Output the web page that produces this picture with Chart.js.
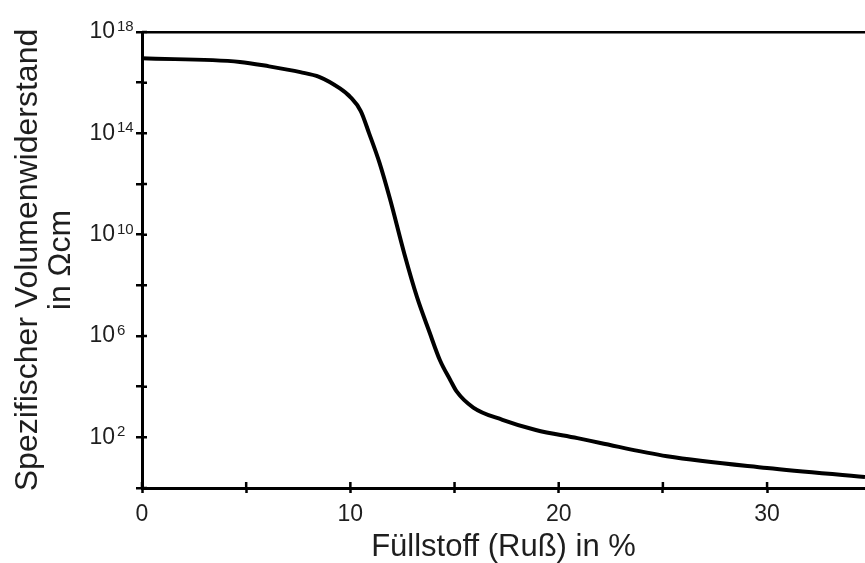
<!DOCTYPE html>
<html>
<head>
<meta charset="utf-8">
<script src="https://cdn.jsdelivr.net/npm/chart.js@4.4.1/dist/chart.umd.min.js"></script>
<style>
  html, body { margin: 0; padding: 0; background: #fff; }
  #wrap { width: 865px; height: 563px; position: relative; }
</style>
</head>
<body>
<div id="wrap"><canvas id="c"></canvas></div>
<script>
// Filler content (carbon black) in %
const fillerPercent = [0, 4.7, 6.1, 7.6, 8.5, 9.5, 10.0, 10.5, 10.9, 11.4, 11.9, 12.6, 13.2, 13.8, 14.3, 14.8, 15.1, 15.9, 17.3, 18.9, 20.9, 22.0, 25.2, 30.0, 34.7];
// Volume resistivity in Ohm*cm
const volumeResistivity = [9.1e16, 6.6e16, 4.4e16, 2.6e16, 1.7e16, 5.9e15, 2.7e15, 7.6e14, 1.0e14, 6.8e12, 2.6e11, 1.65e9, 3.4e7, 1.4e6, 1.1e5, 1.8e4, 6.5e3, 1.5e3, 4.9e2, 1.95e2, 93, 60, 18, 6.2, 2.7];

const xTickValues = [0, 5, 10, 15, 20, 25, 30];
const xTickLabels = ['0', '', '10', '', '20', '', '30'];
const yTickValues = [1e0, 1e2, 1e4, 1e6, 1e8, 1e10, 1e12, 1e14, 1e16, 1e18];
const yTickBases = ['', '10', '', '10', '', '10', '', '10', '', '10'];
const yTickExponents = ['', '2', '', '6', '', '10', '', '14', '', '18'];

const xTitle = 'Füllstoff (Ruß) in %';
const yTitle = ['Spezifischer Volumenwiderstand', 'in Ωcm'];

const FONT = "'Liberation Sans', Arial, Helvetica, sans-serif";
const TEXT = '#1e1e1e';

const innerTicksAndExponents = {
  id: 'innerTicksAndExponents',
  afterDraw(chart) {
    const { ctx, scales: { x, y }, chartArea } = chart;
    ctx.save();
    ctx.strokeStyle = '#000';
    ctx.lineWidth = 2.5;
    ctx.beginPath();
    x.ticks.forEach(t => {
      const px = x.getPixelForValue(t.value);
      ctx.moveTo(px, chartArea.bottom);
      ctx.lineTo(px, chartArea.bottom - 6);
    });
    y.ticks.forEach(t => {
      const py = y.getPixelForValue(t.value);
      ctx.moveTo(chartArea.left, py);
      ctx.lineTo(chartArea.left + 5, py);
    });
    ctx.stroke();
    // exponents of the power-of-ten tick labels
    ctx.fillStyle = TEXT;
    ctx.font = "15px " + FONT;
    ctx.textAlign = 'left';
    ctx.textBaseline = 'alphabetic';
    y.ticks.forEach((t, i) => {
      const exp = yTickExponents[i];
      if (!exp) return;
      const py = y.getPixelForValue(t.value);
      ctx.fillText(exp, chartArea.left - 25, py - 1);
    });
    ctx.restore();
  }
};

new Chart(document.getElementById('c'), {
  type: 'line',
  data: {
    datasets: [{
      data: fillerPercent.map((v, i) => ({ x: v, y: volumeResistivity[i] })),
      borderColor: '#000',
      borderWidth: 4,
      pointRadius: 0,
      fill: false,
      cubicInterpolationMode: 'monotone'
    }]
  },
  options: {
    responsive: true,
    maintainAspectRatio: false,
    animation: false,
    layout: { padding: { top: 32, right: 0, bottom: 0, left: 0 } },
    plugins: { legend: { display: false }, tooltip: { enabled: false } },
    scales: {
      x: {
        type: 'linear',
        min: 0,
        max: 34.7,
        afterBuildTicks: s => { s.ticks = xTickValues.map(v => ({ value: v })); },
        afterFit: s => { s.height = 75; s.paddingRight = 0; },
        ticks: {
          callback: (v, i) => xTickLabels[i],
          font: { family: FONT, size: 23 },
          color: TEXT,
          padding: 8,
          maxRotation: 0,
          autoSkip: false
        },
        grid: {
          display: true,
          drawOnChartArea: false,
          drawTicks: true,
          tickLength: 5,
          tickColor: '#000',
          tickWidth: 2.5,
          color: '#000'
        },
        border: { display: true, color: '#000', width: 3 },
        title: {
          display: true,
          text: xTitle,
          font: { family: FONT, size: 31, lineHeight: 1.03 },
          color: TEXT,
          padding: { top: 0, bottom: 0 }
        }
      },
      y: {
        type: 'logarithmic',
        min: 1,
        max: 1e18,
        afterBuildTicks: s => { s.ticks = yTickValues.map(v => ({ value: v })); },
        afterFit: s => { s.width = 142; s.paddingTop = 0; s.paddingBottom = 0; },
        ticks: {
          callback: (v, i) => yTickBases[i],
          font: { family: FONT, size: 23 },
          color: TEXT,
          padding: 21,
          autoSkip: false
        },
        grid: {
          display: true,
          drawOnChartArea: true,
          drawTicks: true,
          tickLength: 6,
          tickColor: '#000',
          tickWidth: 2.5,
          lineWidth: 2.5,
          color: c => (c.tick && c.tick.value === 1e18) ? '#000' : 'rgba(0,0,0,0)'
        },
        border: { display: true, color: '#000', width: 3 },
        title: {
          display: true,
          text: yTitle,
          font: { family: FONT, size: 32, lineHeight: 1.05 },
          color: TEXT,
          padding: { top: 11, bottom: 0 }
        }
      }
    }
  },
  plugins: [innerTicksAndExponents]
});
</script>
</body>
</html>
